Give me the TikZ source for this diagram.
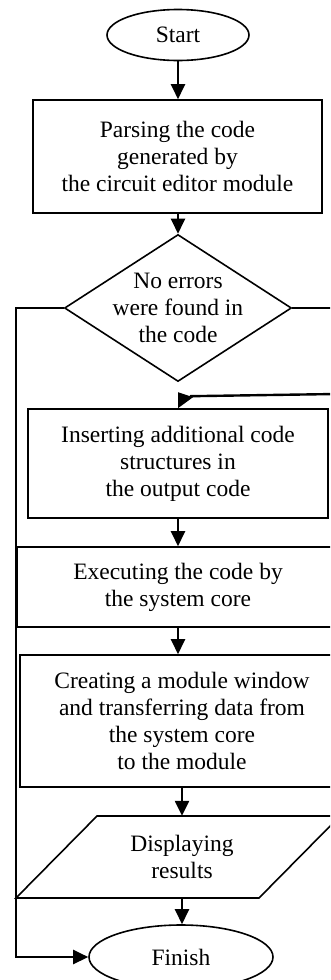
\documentclass[tikz,border=0pt]{standalone}
\usepackage{fontspec}
\setmainfont{Liberation Serif}
\usetikzlibrary{arrows.meta,shapes.geometric,calc}
\begin{document}
\begin{tikzpicture}[x=1pt,y=-1pt,
  every node/.style={font=\fontsize{23.5}{27}\selectfont, align=center, inner sep=0pt},
  box/.style={draw, line width=1.6pt, rectangle},
  term/.style={draw, line width=1.6pt, ellipse},
  conn/.style={line width=2.4pt, -{Triangle[length=15pt,width=14pt]}},
  wire/.style={line width=2.4pt}]
\useasboundingbox (0,0) rectangle (330,980);
\clip (0,0) rectangle (330,980);

% process blocks
\node[term, minimum width=142pt, minimum height=51pt] (start) at (178,35) {Start};
\node[box, minimum width=289pt, minimum height=113pt] (parse) at (177.5,156.5)
  {Parsing the code\\generated by\\the circuit editor module};
\node[draw, line width=1.6pt, diamond, minimum width=227pt, minimum height=147pt] (check) at (178,308) {};
\node (checktxt) at (check) {No errors\\were found in\\the code};
\node[box, minimum width=300pt, minimum height=109pt] (insert) at (178,463.5)
  {Inserting additional code\\structures in\\the output code};
\node[box, minimum width=322pt, minimum height=80pt] (exec) at (178,587)
  {Executing the code by\\the system core};
\node[box, minimum width=324pt, minimum height=132pt] (create) at (182,721)
  {Creating a module window\\and transferring data from\\the system core\\to the module};
\node[minimum height=82pt] (disp) at (182,857) {Displaying\\results};
\draw[line width=1.6pt] ($(disp.center)+(-166,41)$) -- ($(disp.center)+(-85,-41)$)
  -- ($(disp.center)+(158,-41)$) -- ($(disp.center)+(77,41)$) -- cycle;
\node[term, minimum width=184pt, minimum height=64pt] (finish) at (181,957) {Finish};

% flow
\draw[conn] (start.south) -- (start.south |- parse.north);
\draw[conn] (parse.south -| check.north) -- (check.north);
\draw[conn] (insert.south) -- (exec.north);
\draw[conn] (exec.south) -- (exec.south |- create.north);
\draw[conn] (create.south) -- (disp.north);
\draw[conn] (disp.south) -- (disp.south |- finish.north);

% error branch straight to the end
\draw[conn] (check.west) -- ++(-48,0) |- (finish.west);

% success branch, returning into the insertion step
\coordinate (rim) at (336,0);
\coordinate (back) at (336,394);
\draw[wire] (check.east) -- (check.east -| rim);
\draw[wire] (back) -- ($(insert.north)+(12,-12)$);
\fill ($(insert.north)+(0,-16)$) -- ($(insert.north)+(15,-11)$) -- (insert.north) -- cycle;
\end{tikzpicture}
\end{document}
